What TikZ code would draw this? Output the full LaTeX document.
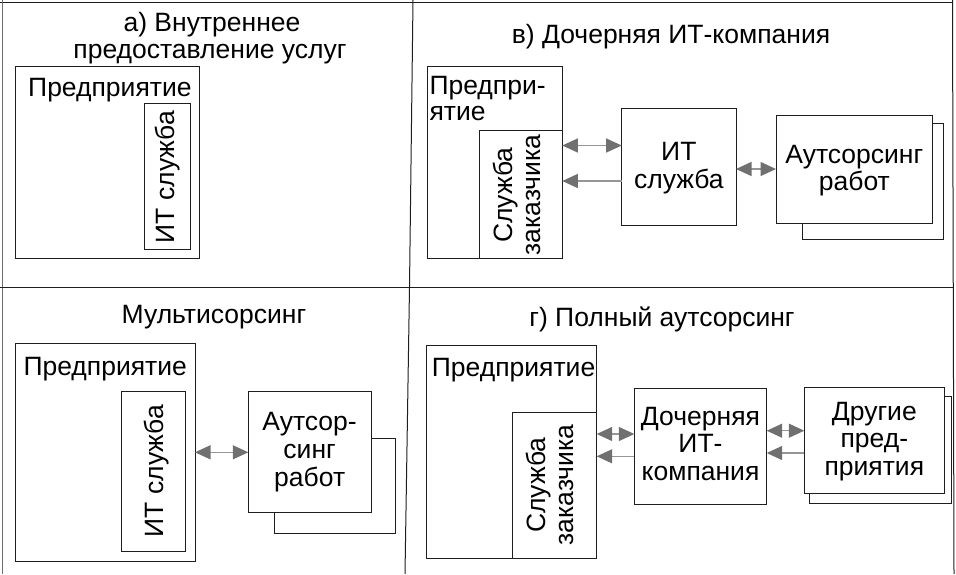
\documentclass[tikz,border=0pt]{standalone}
\usepackage{fontspec}
\setmainfont{Liberation Sans}
\usetikzlibrary{arrows.meta}
\definecolor{headgray}{RGB}{112,112,112}
\definecolor{linegray}{RGB}{150,150,150}
\definecolor{framegray}{RGB}{110,110,110}
\definecolor{boxline}{RGB}{30,30,30}
\begin{document}
\begin{tikzpicture}[x=1pt,y=-1pt,
  box/.style={draw=boxline, line width=1pt, fill=white, inner sep=0pt, outer sep=0pt, rectangle},
  txt/.style={anchor=base, inner sep=0pt, font=\fontsize{26.5}{30}\selectfont},
  ltxt/.style={txt, anchor=base west},
  conn/.style={draw=linegray, line width=1.3pt},
  >={Triangle[length=15.5pt,width=14pt,color=headgray]}
]
\useasboundingbox (0,0) rectangle (956,574);
% frame
\draw[boxline, line width=1pt] (0,2.5) -- (953,2.5);
\draw[framegray, line width=1pt] (2,0) -- (2,574);
\draw[boxline, line width=1pt] (952.5,0) -- (954,574);
\draw[boxline, line width=1pt] (0,287) -- (953,287);
\draw[boxline, line width=1pt] (413,0) -- (409.5,287) -- (405,574);

% ---------- panel a
\node[txt] (titA1) at (212,31) {а) Внутреннее};
\node[txt] (titA2) at (210,58) {предоставление услуг};
\node[box, minimum width=183.6pt, minimum height=192pt] (entA) at (107.5,162.7) {};
\node[box, minimum width=46.3pt, minimum height=145.6pt] (itA) at (167.15,176.5) {};
\node[ltxt] (entAt) at (28,96.7) {Предприятие};
\node[txt, rotate=90] (itAt) at (174.5,177) {ИТ служба};

% ---------- panel b
\node[txt] (titB) at (671,43.3) {в) Дочерняя ИТ-компания};
\node[box, minimum width=135.3pt, minimum height=191.6pt] (entB) at (494.65,162.5) {};
\node[box, minimum width=83pt, minimum height=127.6pt] (custB) at (520.8,194.5) {};
\node[box, minimum width=114.3pt, minimum height=117.4pt] (itB) at (678.85,167) {};
\node[box, minimum width=141.7pt, minimum height=115.7pt] (outBs) at (872.85,181.15) {};
\node[box, minimum width=156.7pt, minimum height=107.6pt] (outB) at (854.35,169.5) {};
\node[ltxt] (entBt1) at (429.3,94) {Предпри-};
\node[ltxt] (entBt2) at (429.3,120.7) {ятие};
\node[txt, rotate=90] (custBt1) at (512,195) {Служба};
\node[txt, rotate=90] (custBt2) at (540,195) {заказчика};
\node[txt] (itBt1) at (678.85,160) {ИТ};
\node[txt] (itBt2) at (678.85,188) {служба};
\node[txt] (outBt1) at (854.35,163.3) {Аутсорсинг};
\node[txt] (outBt2) at (854.35,190) {работ};
\draw[conn, <->] (custB.east |- 0,145.5) -- (itB.west |- 0,145.5);
\draw[conn, ->] (itB.west |- 0,181) -- (custB.east |- 0,181);
\draw[conn, <->] (itB.east |- 0,169) -- (outB.west |- 0,169);

% ---------- panel c
\node[txt] (titC) at (214,323.3) {Мультисорсинг};
\node[box, minimum width=179.3pt, minimum height=218.4pt] (entC) at (105.35,452.5) {};
\node[box, minimum width=64.3pt, minimum height=160pt] (itC) at (153.15,471.7) {};
\node[box, minimum width=121.7pt, minimum height=95pt] (outCs) at (334.85,485.8) {};
\node[box, minimum width=122.7pt, minimum height=120.6pt] (outC) at (309.65,452) {};
\node[ltxt] (entCt) at (23.3,375) {Предприятие};
\node[txt, rotate=90] (itCt) at (163.3,471) {ИТ служба};
\node[txt] (outCt1) at (309.65,430) {Аутсор-};
\node[txt] (outCt2) at (309.65,458.3) {синг};
\node[txt] (outCt3) at (309.65,486.6) {работ};
\draw[conn, <->] (entC.east |- 0,452.3) -- (outC.west |- 0,452.3);

% ---------- panel d
\node[txt] (titD) at (662,326.3) {г) Полный аутсорсинг};
\node[box, minimum width=170pt, minimum height=213pt] (entD) at (511.7,451.5) {};
\node[box, minimum width=84pt, minimum height=145.7pt] (custD) at (554.7,485.15) {};
\node[box, minimum width=132.4pt, minimum height=116.4pt] (subD) at (700.5,446.5) {};
\node[box, minimum width=142pt, minimum height=107pt] (othDs) at (880.3,449.8) {};
\node[box, minimum width=140pt, minimum height=106pt] (othD) at (874.3,440.3) {};
\node[ltxt] (entDt) at (431.7,376.7) {Предприятие};
\node[txt, rotate=90] (custDt1) at (545,485) {Служба};
\node[txt, rotate=90] (custDt2) at (573.3,485) {заказчика};
\node[txt] (subDt1) at (700.5,425.7) {Дочерняя};
\node[txt] (subDt2) at (700.5,452.3) {ИТ-};
\node[txt] (subDt3) at (700.5,480.7) {компания};
\node[txt] (othDt1) at (874.3,420.7) {Другие};
\node[txt] (othDt2) at (874.3,447) {пред-};
\node[txt] (othDt3) at (874.3,475.7) {приятия};
\draw[conn, <->] (custD.east |- 0,434) -- (subD.west |- 0,434);
\draw[conn, ->] (subD.west |- 0,456.3) -- (custD.east |- 0,456.3);
\draw[conn, <->] (subD.east |- 0,430.7) -- (othD.west |- 0,430.7);
\draw[conn, ->] (othD.west |- 0,453) -- (subD.east |- 0,453);
\end{tikzpicture}
\end{document}
